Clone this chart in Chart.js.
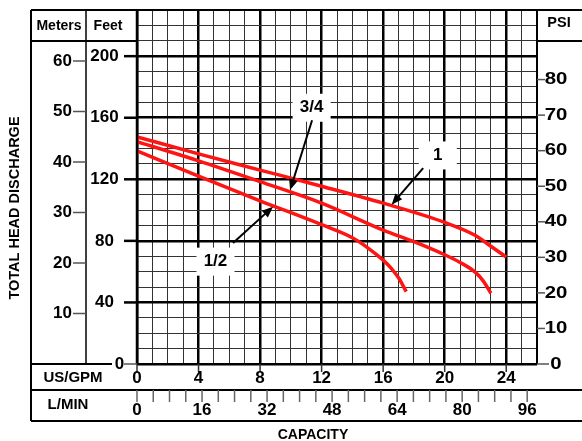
<!DOCTYPE html>
<html>
<head>
<meta charset="utf-8">
<script src="https://cdn.jsdelivr.net/npm/chart.js@4.4.1/dist/chart.umd.min.js"></script>
<style>
  html, body { margin: 0; padding: 0; background: #fff; }
  canvas { display: block; }
</style>
</head>
<body>
<canvas id="pump-curve" width="582" height="441"></canvas>
<script>
// pump curves, capacity in US GPM vs total head in feet
const gpmOne = [0, 4, 8, 12, 16, 20, 22, 23, 24];
const headOne = [147.6, 136.5, 126, 115.5, 104.5, 92, 83.5, 76.5, 69.5];

const gpmThreeQuarter = [0, 4, 8, 12, 16, 18, 20, 21, 22, 22.5, 23];
const headThreeQuarter = [144.4, 132, 118.5, 104.5, 87, 79.5, 71, 66, 59.5, 54, 46];

const gpmHalf = [0, 4, 8, 12, 14, 15, 16, 16.5, 17, 17.5];
const headHalf = [138.5, 122, 106, 90.5, 82, 75.5, 67.5, 62.5, 56, 47];

// tick labels
const meterTicks = [10, 20, 30, 40, 50, 60];
const feetTicks = [0, 40, 80, 120, 160, 200];
const psiTicks = [0, 10, 20, 30, 40, 50, 60, 70, 80];
const gpmTicks = [0, 4, 8, 12, 16, 20, 24];
const lpmTicks = [0, 16, 32, 48, 64, 80, 96];

// callouts: label, label centre, arrow start, arrow tip (gpm, feet)
const callouts = [
  { text: '1', at: [19.55, 135.5], from: [18.6, 127.3], to: [16.55, 103.5] },
  { text: '3/4', at: [11.35, 166.5], from: [11.38, 158.4], to: [9.95, 113] },
  { text: '1/2', at: [5.1, 66.5], from: [6.24, 78.6], to: [8.84, 102.2] }
];

const FT_PER_M = 3.281;
const FT_PER_PSI = 2.31;
const LPM_PER_GPM = 3.785;

const font = size => 'bold ' + size + 'px "Liberation Sans", Arial, sans-serif';

function arrow(ctx, x1, y1, x2, y2) {
  const ang = Math.atan2(y2 - y1, x2 - x1);
  const len = 11, half = 4.5;
  const c = Math.cos(ang), s = Math.sin(ang);
  ctx.lineWidth = 2;
  ctx.beginPath();
  ctx.moveTo(x1, y1);
  ctx.lineTo(x2 - c * len * 0.8, y2 - s * len * 0.8);
  ctx.stroke();
  ctx.beginPath();
  ctx.moveTo(x2, y2);
  ctx.lineTo(x2 - len * c + half * s, y2 - len * s - half * c);
  ctx.lineTo(x2 - len * c - half * s, y2 - len * s + half * c);
  ctx.closePath();
  ctx.fill();
}

const chartFrame = {
  id: 'chartFrame',
  afterDatasetsDraw(chart) {
    const { ctx, chartArea: a, scales: { x, y } } = chart;
    const left = 31, colSplit = 86, headBottom = 41;
    const gpmBottom = 390, lpmBottom = 421, right = chart.width;

    const line = (x1, y1, x2, y2, w, color) => {
      ctx.strokeStyle = color || '#000';
      ctx.lineWidth = w;
      ctx.beginPath();
      ctx.moveTo(x1, y1);
      ctx.lineTo(x2, y2);
      ctx.stroke();
    };
    const text = (t, tx, ty, size) => {
      ctx.font = font(size);
      ctx.fillText(t, tx, ty);
    };

    ctx.save();
    ctx.fillStyle = '#000';
    ctx.textAlign = 'center';
    ctx.textBaseline = 'middle';

    // callout boxes and arrows
    callouts.forEach(c => {
      const cx = x.getPixelForValue(c.at[0]);
      const cy = y.getPixelForValue(c.at[1]);
      ctx.fillStyle = '#fff';
      ctx.fillRect(cx - 19, cy - 14, 38, 28);
      ctx.fillStyle = '#000';
      text(c.text, cx, cy, 17);
      ctx.strokeStyle = '#000';
      arrow(ctx, x.getPixelForValue(c.from[0]), y.getPixelForValue(c.from[1]),
        x.getPixelForValue(c.to[0]), y.getPixelForValue(c.to[1]));
    });

    // frame
    line(left, a.top, right, a.top, 2);
    line(left, a.top, left, lpmBottom, 2);
    line(a.left, a.top, a.left, a.bottom, 2.5);
    line(a.right, a.top, a.right, a.bottom, 2);
    line(colSplit, a.top, colSplit, a.bottom, 1.5);
    line(left, headBottom, a.left, headBottom, 2);
    line(a.right, headBottom, right, headBottom, 2);
    line(left, gpmBottom, right, gpmBottom, 2);
    line(left, lpmBottom, right, lpmBottom, 2);

    // headers
    text('Meters', 59, 26, 14);
    text('Feet', 108, 26, 14);
    text('PSI', 559, 23, 14.5);
    text('US/GPM', 73, 378, 15);
    text('L/MIN', 68, 405, 15);
    text('CAPACITY', 313, 435, 14);

    ctx.save();
    ctx.translate(15, 208);
    ctx.rotate(-Math.PI / 2);
    text('TOTAL HEAD DISCHARGE', 0, 0, 14.5);
    ctx.restore();

    // meters
    meterTicks.forEach(m => {
      const py = y.getPixelForValue(m * FT_PER_M);
      line(73, py, colSplit, py, 1.5, '#555');
      text(String(m), 62.5, py, 17);
    });

    // feet
    feetTicks.forEach(f => {
      const py = y.getPixelForValue(f);
      if (f === 0) {
        line(left, py, 112, py, 2);
        line(124, py, a.left, py, 1.5, '#555');
        text('0', 119.5, py, 17);
      } else {
        line(124, py, a.left, py, 2.5);
        text(String(f), 104.5, py, 17);
      }
    });

    // psi
    psiTicks.forEach(p => {
      const py = y.getPixelForValue(p * FT_PER_PSI);
      line(a.right, py, p === 0 ? 549 : 545, py, 1.5, '#555');
      ctx.save();
      ctx.translate(556, py);
      ctx.scale(1.2, 1);
      text(String(p), 0, 0, 17);
      ctx.restore();
    });

    // gpm row
    gpmTicks.forEach(g => {
      const px = x.getPixelForValue(g);
      line(px, a.bottom, px, 372, 1.5, '#333');
      text(String(g), px, 378, 17);
    });

    // l/min row
    for (let l = 0; l <= lpmTicks[lpmTicks.length - 1]; l += 4) {
      const px = x.getPixelForValue(l / LPM_PER_GPM);
      line(px, gpmBottom, px, 402, 1.5, '#666');
    }
    lpmTicks.forEach(l => {
      text(String(l), x.getPixelForValue(l / LPM_PER_GPM), 410, 17);
    });

    ctx.restore();
  }
};

const curveStyle = {
  borderColor: '#ff1414',
  borderWidth: 3.5,
  pointRadius: 0,
  fill: false,
  cubicInterpolationMode: 'monotone'
};

const toPoints = (gpm, head) => gpm.map((g, i) => ({ x: g, y: head[i] }));

new Chart(document.getElementById('pump-curve').getContext('2d'), {
  type: 'line',
  data: {
    datasets: [
      Object.assign({ label: '1', data: toPoints(gpmOne, headOne) }, curveStyle),
      Object.assign({ label: '3/4', data: toPoints(gpmThreeQuarter, headThreeQuarter) }, curveStyle),
      Object.assign({ label: '1/2', data: toPoints(gpmHalf, headHalf) }, curveStyle)
    ]
  },
  options: {
    responsive: false,
    animation: false,
    events: [],
    layout: {
      padding: { left: 137, right: 45, top: 10, bottom: 77 }
    },
    plugins: {
      legend: { display: false },
      tooltip: { enabled: false }
    },
    scales: {
      x: {
        type: 'linear',
        min: 0,
        max: 26,
        border: { display: false },
        ticks: { display: false, stepSize: 1, maxTicksLimit: 100, autoSkip: false },
        grid: {
          drawTicks: false,
          color: c => c.tick.value % 4 === 0 ? '#000' : '#333',
          lineWidth: c => c.tick.value % 4 === 0 ? 2.5 : 1
        }
      },
      y: {
        type: 'linear',
        min: 0,
        max: 230,
        border: { display: false },
        ticks: { display: false, stepSize: 10, maxTicksLimit: 100, autoSkip: false },
        grid: {
          drawTicks: false,
          color: c => c.tick.value % 40 === 0 ? '#000' : '#333',
          lineWidth: c => c.tick.value % 40 === 0 ? 2.5 : 1
        }
      }
    }
  },
  plugins: [chartFrame]
});
</script>
</body>
</html>
